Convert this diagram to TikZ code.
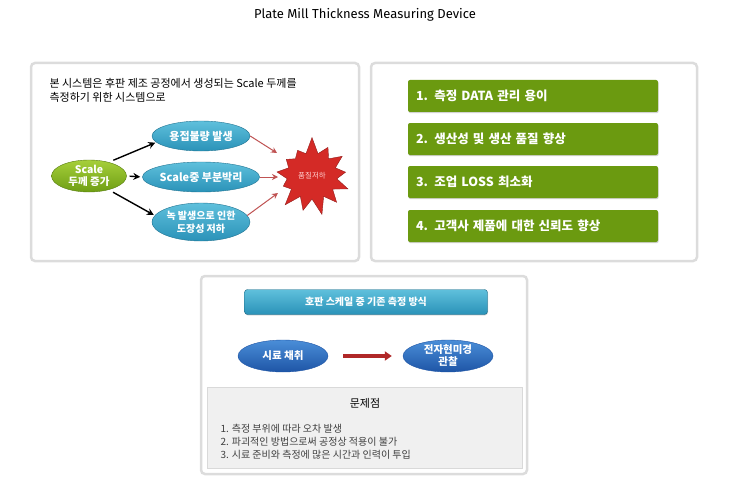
\documentclass[tikz,border=0pt]{standalone}
\usepackage{fontspec}
\setmainfont{Fira Sans}
\newfontfamily\kr{Noto Sans CJK KR}
\usetikzlibrary{shapes.geometric,shapes.symbols,arrows.meta,positioning,shadows}
\definecolor{panelgray}{HTML}{DCDCDC}
\definecolor{okgreen}{HTML}{6B9A10}
\definecolor{limetop}{HTML}{A6CF3A}
\definecolor{limebot}{HTML}{6E9E14}
\definecolor{tealtop}{HTML}{5FC0DC}
\definecolor{tealbot}{HTML}{2A92B8}
\definecolor{bluetop}{HTML}{4A8ED8}
\definecolor{bluebot}{HTML}{1E55A6}
\definecolor{alarm}{HTML}{D42A26}
\definecolor{darkarrow}{HTML}{B02828}

\begin{document}
\begin{tikzpicture}[x=1pt, y=-1pt,
    panel/.style={draw=panelgray, line width=2.5pt, rounded corners=4pt, fill=white},
    cause/.style={ellipse, minimum width=75pt, minimum height=32pt, inner sep=0pt,
      top color=limetop, bottom color=limebot, draw=limebot!80!black, thin,
      text=white, align=center, font=\kr\bfseries\fontsize{10.5}{12}\selectfont},
    effect/.style={ellipse, minimum width=98pt, minimum height=30pt, inner sep=0pt,
      top color=tealtop, bottom color=tealbot, draw=tealbot!80!black, thin,
      text=white, align=center, font=\kr\bfseries\fontsize{11}{13}\selectfont},
    gain/.style={rectangle, rounded corners=2pt, fill=okgreen, minimum width=250pt,
      minimum height=32pt, text width=234pt, align=left, text=white,
      font=\kr\bfseries\fontsize{12.5}{14}\selectfont,
      drop shadow={shadow xshift=0.6pt, shadow yshift=-1.2pt, fill=black!35}},
    method/.style={ellipse, minimum width=90pt, minimum height=32pt, inner sep=0pt,
      top color=bluetop, bottom color=bluebot, draw=bluebot, thin,
      text=white, align=center, font=\kr\bfseries\fontsize{10.5}{12}\selectfont},
    push/.style={-{Stealth[length=7pt,width=7pt]}, line width=1.4pt, black},
    hurt/.style={-{Stealth[length=6pt,width=6pt]}, line width=1pt, darkarrow!80}]
  \useasboundingbox (0,0) rectangle (730,500);

  % Title
  \node[font=\fontsize{13}{15}\selectfont] (title) at (365,15) {Plate Mill Thickness Measuring Device};

  % Panels
  \draw[panel] (31,63) rectangle (359,261);
  \draw[panel] (371,63) rectangle (697,261);
  \draw[panel] (201,276) rectangle (527,474);

  % Left panel: causes and effects
  \node[anchor=north west, align=left, font=\kr\fontsize{11}{14}\selectfont] (intro) at (46,75)
    {본 시스템은 후판 제조 공정에서 생성되는 Scale 두께를\\측정하기 위한 시스템으로};
  \node[cause] (scale) at (89,176) {Scale\\두께 증가};
  \node[effect] (weld) at (201,136) {용접불량 발생};
  \node[effect] (peel) at (201,177) {Scale중 부분박리};
  \node[effect, minimum height=38pt, font=\kr\bfseries\fontsize{10}{13}\selectfont] (rust) at (201,222) {녹 발생으로 인한\\도장성 저하};
  \node[starburst, starburst points=13, starburst point height=17pt, random starburst=7,
    minimum width=84pt, minimum height=80pt, fill=alarm, draw=alarm!70!black, thin,
    text=white!80!red, font=\kr\fontsize{7.5}{8}\selectfont] (burst) at (312,176) {품질저하};
  \coordinate (hitA) at ([shift={(-35,-23)}]burst.center);
  \coordinate (hitB) at ([shift={(-34,1)}]burst.center);
  \coordinate (hitC) at ([shift={(-34,17)}]burst.center);

  \draw[push, shorten <=5pt, shorten >=1pt] (scale.35) -- (weld.188);
  \draw[push, shorten <=3pt, shorten >=2pt] (scale.east) -- (peel.west);
  \draw[push, shorten <=5pt, shorten >=1pt] (scale.-35) -- (rust.172);
  \draw[hurt] (weld.east) -- (hitA);
  \draw[hurt] (peel.east) -- (hitB);
  \draw[hurt] (rust.8) -- (hitC);

  % Right panel: benefits
  \node[gain] (adv1) at (533,96) {1. 측정 DATA 관리 용이};
  \node[gain] (adv2) at (533,139) {2. 생산성 및 생산 품질 향상};
  \node[gain] (adv3) at (533,182) {3. 조업 LOSS 최소화};
  \node[gain] (adv4) at (533,226) {4. 고객사 제품에 대한 신뢰도 향상};

  % Bottom panel: existing method
  \node[rectangle, rounded corners=3pt, minimum width=243pt, minimum height=25pt,
    top color=tealtop, bottom color=tealbot, draw=tealbot!70!black, thin,
    drop shadow={shadow xshift=0.5pt, shadow yshift=-1pt, fill=black!25},
    text=white, font=\kr\bfseries\fontsize{10}{12}\selectfont] (head) at (366,302) {호판 스케일 중 기존 측정 방식};
  \node[method] (sample) at (283,356) {시료 채취};
  \node[method] (sem) at (448,356) {전자현미경\\관찰};
  \draw[-{Triangle[length=7pt,width=9pt]}, line width=3.5pt, darkarrow,
    shorten <=15pt, shorten >=11pt] (sample) -- (sem);

  \draw[fill=black!6, draw=black!15] (207,387) rectangle (522,468);
  \node[font=\kr\fontsize{11}{13}\selectfont] (issue) at (365,403) {문제점};
  \node[anchor=north west, align=left, text=black!75,
    font=\kr\fontsize{10}{12.8}\selectfont] (issues) at (217,421)
    {1. 측정 부위에 따라 오차 발생\\2. 파괴적인 방법으로써 공정상 적용이 불가\\3. 시료 준비와 측정에 많은 시간과 인력이 투입};
\end{tikzpicture}
\end{document}
